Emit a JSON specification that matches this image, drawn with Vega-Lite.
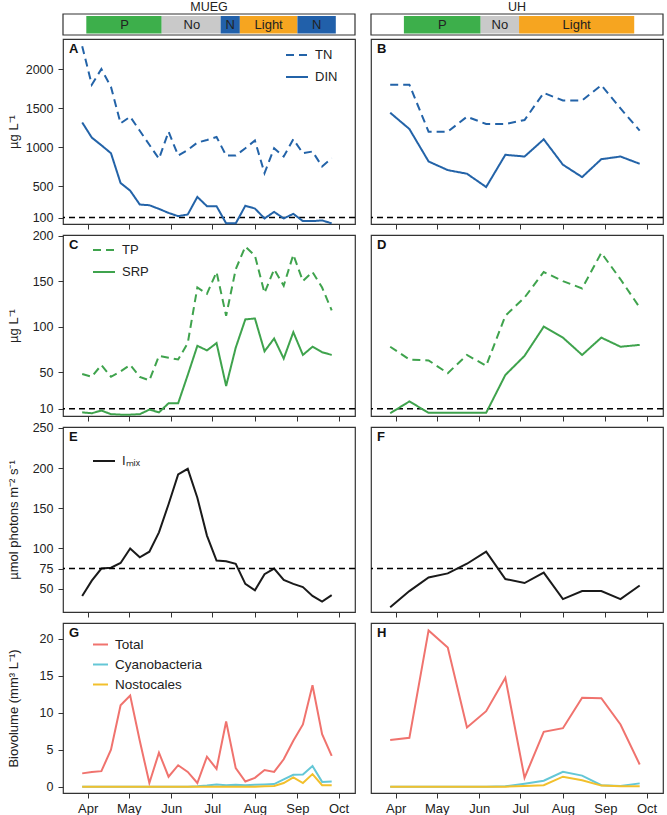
{
"$schema": "https://vega.github.io/schema/vega-lite/v6.json",
"background": "white",
"padding": {"left": 6, "top": 0, "right": 0, "bottom": 0},
"config": {
  "font": "Liberation Sans",
  "view": {"stroke": "#333", "strokeWidth": 1.2},
  "axis": {"domain": false, "grid": false, "tickColor": "#333", "tickSize": 5, "tickWidth": 1, "labelColor": "#222", "labelFontSize": 12.5, "labelPadding": 5, "titleColor": "#222", "titleFontSize": 13, "titleFontWeight": "normal", "labelOverlap": false},
  "legend": {"labelFontSize": 13, "labelColor": "#222", "symbolType": "stroke", "symbolStrokeWidth": 2, "padding": 0, "rowPadding": 3, "labelOffset": 6, "orient": "none"},
  "line": {"strokeWidth": 2}
},
"datasets": {
  "hdrMUEG": [
    {"seg": "P", "start": "2016-03-31", "end": "2016-05-25", "mid": "2016-04-28"},
    {"seg": "No", "start": "2016-05-25", "end": "2016-07-07", "mid": "2016-06-16"},
    {"seg": "N", "start": "2016-07-07", "end": "2016-07-21", "mid": "2016-07-14"},
    {"seg": "Light", "start": "2016-07-21", "end": "2016-09-01", "mid": "2016-08-11"},
    {"seg": "N", "start": "2016-09-01", "end": "2016-09-29", "mid": "2016-09-15"}
  ],
  "hdrUH": [
    {"seg": "P", "start": "2016-04-07", "end": "2016-06-02", "mid": "2016-05-05"},
    {"seg": "No", "start": "2016-06-02", "end": "2016-06-30", "mid": "2016-06-16"},
    {"seg": "Light", "start": "2016-06-30", "end": "2016-09-22", "mid": "2016-08-11"}
  ],
  "mueg": [
    {"date": "2016-03-28", "TN": 2292, "DIN": 1317, "TP": 48, "SRP": 6, "Imix": 41, "Total": 1.8, "Cyanobacteria": 0, "Nostocales": 0},
    {"date": "2016-04-04", "TN": 1800, "DIN": 1123, "TP": 45, "SRP": 5, "Imix": 60, "Total": 2.0, "Cyanobacteria": 0, "Nostocales": 0},
    {"date": "2016-04-11", "TN": 2000, "DIN": 1025, "TP": 58, "SRP": 8, "Imix": 75, "Total": 2.1, "Cyanobacteria": 0, "Nostocales": 0},
    {"date": "2016-04-18", "TN": 1771, "DIN": 923, "TP": 45, "SRP": 4, "Imix": 76, "Total": 5.0, "Cyanobacteria": 0, "Nostocales": 0},
    {"date": "2016-04-25", "TN": 1305, "DIN": 542, "TP": 51, "SRP": 3.5, "Imix": 82, "Total": 11.0, "Cyanobacteria": 0, "Nostocales": 0},
    {"date": "2016-05-02", "TN": 1390, "DIN": 445, "TP": 58, "SRP": 3.5, "Imix": 100, "Total": 12.3, "Cyanobacteria": 0, "Nostocales": 0},
    {"date": "2016-05-09", "TN": 1211, "DIN": 267, "TP": 45, "SRP": 4, "Imix": 89, "Total": 6.2, "Cyanobacteria": 0, "Nostocales": 0},
    {"date": "2016-05-16", "TN": 1031, "DIN": 258, "TP": 41, "SRP": 9, "Imix": 96, "Total": 0.5, "Cyanobacteria": 0, "Nostocales": 0},
    {"date": "2016-05-23", "TN": 852, "DIN": 211, "TP": 68, "SRP": 6, "Imix": 120, "Total": 4.6, "Cyanobacteria": 0, "Nostocales": 0},
    {"date": "2016-05-30", "TN": 1199, "DIN": 160, "TP": 66, "SRP": 16, "Imix": 155, "Total": 1.35, "Cyanobacteria": 0, "Nostocales": 0},
    {"date": "2016-06-06", "TN": 894, "DIN": 118, "TP": 64, "SRP": 16, "Imix": 192, "Total": 2.9, "Cyanobacteria": 0, "Nostocales": 0},
    {"date": "2016-06-13", "TN": 966, "DIN": 140, "TP": 82, "SRP": 47, "Imix": 199, "Total": 2.0, "Cyanobacteria": 0, "Nostocales": 0},
    {"date": "2016-06-20", "TN": 1059, "DIN": 364, "TP": 143, "SRP": 79, "Imix": 163, "Total": 0.5, "Cyanobacteria": 0.05, "Nostocales": 0},
    {"date": "2016-06-27", "TN": 1093, "DIN": 246, "TP": 136, "SRP": 74, "Imix": 116, "Total": 4.05, "Cyanobacteria": 0.15, "Nostocales": 0},
    {"date": "2016-07-04", "TN": 1131, "DIN": 246, "TP": 160, "SRP": 82, "Imix": 85, "Total": 2.4, "Cyanobacteria": 0.3, "Nostocales": 0},
    {"date": "2016-07-11", "TN": 894, "DIN": 26, "TP": 112, "SRP": 35, "Imix": 84, "Total": 8.8, "Cyanobacteria": 0.2, "Nostocales": 0},
    {"date": "2016-07-18", "TN": 894, "DIN": 26, "TP": 163, "SRP": 77, "Imix": 81, "Total": 2.5, "Cyanobacteria": 0.25, "Nostocales": 0},
    {"date": "2016-07-25", "TN": 987, "DIN": 251, "TP": 188, "SRP": 108, "Imix": 56, "Total": 0.7, "Cyanobacteria": 0.2, "Nostocales": 0},
    {"date": "2016-08-01", "TN": 1085, "DIN": 216, "TP": 178, "SRP": 109, "Imix": 48, "Total": 1.2, "Cyanobacteria": 0.25, "Nostocales": 0},
    {"date": "2016-08-08", "TN": 669, "DIN": 89, "TP": 137, "SRP": 73, "Imix": 68, "Total": 2.25, "Cyanobacteria": 0.3, "Nostocales": 0.05},
    {"date": "2016-08-15", "TN": 987, "DIN": 173, "TP": 163, "SRP": 87, "Imix": 75, "Total": 2.0, "Cyanobacteria": 0.35, "Nostocales": 0.1},
    {"date": "2016-08-22", "TN": 881, "DIN": 89, "TP": 145, "SRP": 65, "Imix": 61, "Total": 3.7, "Cyanobacteria": 1.0, "Nostocales": 0.5},
    {"date": "2016-08-29", "TN": 1101, "DIN": 148, "TP": 179, "SRP": 94, "Imix": 56, "Total": 6.2, "Cyanobacteria": 1.6, "Nostocales": 1.25},
    {"date": "2016-09-05", "TN": 923, "DIN": 55, "TP": 150, "SRP": 69, "Imix": 52, "Total": 8.4, "Cyanobacteria": 1.65, "Nostocales": 0.5},
    {"date": "2016-09-12", "TN": 945, "DIN": 55, "TP": 160, "SRP": 78, "Imix": 41, "Total": 13.7, "Cyanobacteria": 2.8, "Nostocales": 1.7},
    {"date": "2016-09-19", "TN": 754, "DIN": 64, "TP": 143, "SRP": 72, "Imix": 34, "Total": 7.1, "Cyanobacteria": 0.65, "Nostocales": 0.2},
    {"date": "2016-09-26", "TN": 860, "DIN": 26, "TP": 118, "SRP": 69, "Imix": 42, "Total": 4.15, "Cyanobacteria": 0.7, "Nostocales": 0.2}
  ],
  "uh": [
    {"date": "2016-03-28", "TN": 1800, "DIN": 1441, "TP": 78, "SRP": 5, "Imix": 27, "Total": 6.3, "Cyanobacteria": 0, "Nostocales": 0},
    {"date": "2016-04-11", "TN": 1800, "DIN": 1233, "TP": 64, "SRP": 18, "Imix": 47, "Total": 6.6, "Cyanobacteria": 0, "Nostocales": 0},
    {"date": "2016-04-25", "TN": 1199, "DIN": 818, "TP": 63, "SRP": 5.5, "Imix": 64, "Total": 21.1, "Cyanobacteria": 0, "Nostocales": 0},
    {"date": "2016-05-09", "TN": 1199, "DIN": 707, "TP": 49, "SRP": 5.5, "Imix": 69, "Total": 18.8, "Cyanobacteria": 0, "Nostocales": 0},
    {"date": "2016-05-23", "TN": 1390, "DIN": 661, "TP": 69, "SRP": 5.5, "Imix": 81, "Total": 8.0, "Cyanobacteria": 0, "Nostocales": 0},
    {"date": "2016-06-06", "TN": 1297, "DIN": 491, "TP": 57, "SRP": 5.5, "Imix": 96, "Total": 10.2, "Cyanobacteria": 0, "Nostocales": 0},
    {"date": "2016-06-20", "TN": 1297, "DIN": 903, "TP": 112, "SRP": 47, "Imix": 62, "Total": 14.7, "Cyanobacteria": 0.05, "Nostocales": 0},
    {"date": "2016-07-04", "TN": 1348, "DIN": 881, "TP": 132, "SRP": 68, "Imix": 57, "Total": 1.2, "Cyanobacteria": 0.4, "Nostocales": 0.1},
    {"date": "2016-07-18", "TN": 1695, "DIN": 1101, "TP": 160, "SRP": 100, "Imix": 70, "Total": 7.4, "Cyanobacteria": 0.8, "Nostocales": 0.2},
    {"date": "2016-08-01", "TN": 1597, "DIN": 776, "TP": 150, "SRP": 88, "Imix": 37, "Total": 7.9, "Cyanobacteria": 2.0, "Nostocales": 1.35},
    {"date": "2016-08-15", "TN": 1597, "DIN": 618, "TP": 142, "SRP": 69, "Imix": 47, "Total": 12.0, "Cyanobacteria": 1.5, "Nostocales": 0.86},
    {"date": "2016-08-29", "TN": 1793, "DIN": 847, "TP": 181, "SRP": 88, "Imix": 47, "Total": 11.95, "Cyanobacteria": 0.2, "Nostocales": 0.15},
    {"date": "2016-09-12", "TN": 1496, "DIN": 881, "TP": 152, "SRP": 78, "Imix": 37, "Total": 8.4, "Cyanobacteria": 0.1, "Nostocales": 0.05},
    {"date": "2016-09-26", "TN": 1212, "DIN": 788, "TP": 121, "SRP": 80, "Imix": 54, "Total": 3.0, "Cyanobacteria": 0.45, "Nostocales": 0.05}
  ]
},
"columns": 2,
"spacing": {"row": 11, "column": 16},
"bounds": "flush",
"resolve": {"scale": {"color": "independent", "strokeDash": "independent"}, "legend": {"color": "independent", "strokeDash": "independent"}},
"concat": [
{
  "width": 292, "height": 185,
  "title": {"text": "MUEG", "offset": 0, "fontSize": 12.5, "fontWeight": "normal", "anchor": "middle", "color": "#222"},
  "layer": [
    {"data": {"values": [{}]}, "mark": {"type": "rect", "fill": "white", "stroke": "#333", "strokeWidth": 1.2},
     "encoding": {"x": {"datum": {"year": 2016, "month": 3, "date": 14}, "type": "temporal"}, "x2": {"datum": {"year": 2016, "month": 10, "date": 13}}, "y": {"datum": 2435, "type": "quantitative"}, "y2": {"datum": 2704}}},
    {"data": {"name": "hdrMUEG"}, "mark": {"type": "rect"},
     "encoding": {"x": {"field": "start", "type": "temporal"}, "x2": {"field": "end"}, "y": {"datum": 2454, "type": "quantitative"}, "y2": {"datum": 2678},
       "color": {"field": "seg", "type": "nominal", "scale": {"domain": ["P", "No", "N", "Light"], "range": ["#3daf4b", "#c9c9c9", "#2160aa", "#f6a520"]}, "legend": null}}},
    {"data": {"name": "hdrMUEG"}, "mark": {"type": "text", "fontSize": 13, "color": "#222", "baseline": "middle"},
     "encoding": {"x": {"field": "mid", "type": "temporal"}, "y": {"datum": 2566, "type": "quantitative"}, "text": {"field": "seg"}}},
    {"data": {"values": [{}]}, "mark": {"type": "rule", "color": "black", "strokeWidth": 1.5, "strokeDash": [6, 4]},
     "encoding": {"y": {"datum": 100, "type": "quantitative"}}},
    {"data": {"name": "mueg"}, "transform": [{"fold": ["TN", "DIN"], "as": ["series", "value"]}],
     "mark": {"type": "line", "color": "#2363a8", "strokeWidth": 2},
     "encoding": {
       "x": {"field": "date", "type": "temporal", "title": null, "scale": {"domain": [{"year": 2016, "month": 3, "date": 14}, {"year": 2016, "month": 10, "date": 13}], "nice": false},
             "axis": {"values": [{"year": 2016, "month": 4, "date": 1}, {"year": 2016, "month": 5, "date": 1}, {"year": 2016, "month": 6, "date": 1}, {"year": 2016, "month": 7, "date": 1}, {"year": 2016, "month": 8, "date": 1}, {"year": 2016, "month": 9, "date": 1}, {"year": 2016, "month": 10, "date": 1}], "format": "%b", "labels": false, "title": null}},
       "y": {"field": "value", "type": "quantitative", "title": "µg L⁻¹", "scale": {"domain": [18, 2384], "nice": false, "zero": false}, "axis": {"values": [100, 500, 1000, 1500, 2000], "format": "d", "titleX": -43, "title": "µg L⁻¹"}},
       "strokeDash": {"field": "series", "type": "nominal", "scale": {"domain": ["TN", "DIN"], "range": [[8, 5], [1, 0]]},
         "legend": {"title": null, "legendX": 222, "legendY": 4, "symbolStrokeColor": "#2363a8", "symbolSize": 484}}
     }},
    {"data": {"values": [{}]}, "mark": {"type": "text", "text": "A", "fontWeight": "bold", "fontSize": 13, "align": "left", "baseline": "top", "dx": 6, "dy": 4, "color": "#111"},
     "encoding": {"x": {"datum": {"year": 2016, "month": 3, "date": 14}, "type": "temporal"}, "y": {"datum": 2384, "type": "quantitative"}}}
  ]
},
{
  "width": 292, "height": 185,
  "title": {"text": "UH", "offset": 0, "fontSize": 12.5, "fontWeight": "normal", "anchor": "middle", "color": "#222"},
  "layer": [
    {"data": {"values": [{}]}, "mark": {"type": "rect", "fill": "white", "stroke": "#333", "strokeWidth": 1.2},
     "encoding": {"x": {"datum": {"year": 2016, "month": 3, "date": 14}, "type": "temporal"}, "x2": {"datum": {"year": 2016, "month": 10, "date": 13}}, "y": {"datum": 2435, "type": "quantitative", "axis": null}, "y2": {"datum": 2704}}},
    {"data": {"name": "hdrUH"}, "mark": {"type": "rect"},
     "encoding": {"x": {"field": "start", "type": "temporal"}, "x2": {"field": "end"}, "y": {"datum": 2454, "type": "quantitative", "axis": null}, "y2": {"datum": 2678},
       "color": {"field": "seg", "type": "nominal", "scale": {"domain": ["P", "No", "N", "Light"], "range": ["#3daf4b", "#c9c9c9", "#2160aa", "#f6a520"]}, "legend": null}}},
    {"data": {"name": "hdrUH"}, "mark": {"type": "text", "fontSize": 13, "color": "#222", "baseline": "middle"},
     "encoding": {"x": {"field": "mid", "type": "temporal"}, "y": {"datum": 2566, "type": "quantitative", "axis": null}, "text": {"field": "seg"}}},
    {"data": {"values": [{}]}, "mark": {"type": "rule", "color": "black", "strokeWidth": 1.5, "strokeDash": [6, 4]},
     "encoding": {"y": {"datum": 100, "type": "quantitative", "axis": null}}},
    {"data": {"name": "uh"}, "transform": [{"fold": ["TN", "DIN"], "as": ["series", "value"]}],
     "mark": {"type": "line", "color": "#2363a8", "strokeWidth": 2},
     "encoding": {
       "x": {"field": "date", "type": "temporal", "title": null, "scale": {"domain": [{"year": 2016, "month": 3, "date": 14}, {"year": 2016, "month": 10, "date": 13}], "nice": false},
             "axis": {"values": [{"year": 2016, "month": 4, "date": 1}, {"year": 2016, "month": 5, "date": 1}, {"year": 2016, "month": 6, "date": 1}, {"year": 2016, "month": 7, "date": 1}, {"year": 2016, "month": 8, "date": 1}, {"year": 2016, "month": 9, "date": 1}, {"year": 2016, "month": 10, "date": 1}], "format": "%b", "labels": false, "title": null}},
       "y": {"field": "value", "type": "quantitative", "scale": {"domain": [18, 2384], "nice": false, "zero": false}, "axis": null},
       "strokeDash": {"field": "series", "type": "nominal", "scale": {"domain": ["TN", "DIN"], "range": [[8, 5], [1, 0]]}, "legend": null}
     }},
    {"data": {"values": [{}]}, "mark": {"type": "text", "text": "B", "fontWeight": "bold", "fontSize": 13, "align": "left", "baseline": "top", "dx": 6, "dy": 4, "color": "#111"},
     "encoding": {"x": {"datum": {"year": 2016, "month": 3, "date": 14}, "type": "temporal"}, "y": {"datum": 2384, "type": "quantitative", "axis": null}}}
  ]
},
{
  "width": 292, "height": 181,
  "layer": [
    {"data": {"values": [{}]}, "mark": {"type": "rule", "color": "black", "strokeWidth": 1.5, "strokeDash": [6, 4]},
     "encoding": {"y": {"datum": 10, "type": "quantitative"}}},
    {"data": {"name": "mueg"}, "transform": [{"fold": ["TP", "SRP"], "as": ["series", "value"]}],
     "mark": {"type": "line", "color": "#3fa34d", "strokeWidth": 2},
     "encoding": {
       "x": {"field": "date", "type": "temporal", "title": null, "scale": {"domain": [{"year": 2016, "month": 3, "date": 14}, {"year": 2016, "month": 10, "date": 13}], "nice": false},
             "axis": {"values": [{"year": 2016, "month": 4, "date": 1}, {"year": 2016, "month": 5, "date": 1}, {"year": 2016, "month": 6, "date": 1}, {"year": 2016, "month": 7, "date": 1}, {"year": 2016, "month": 8, "date": 1}, {"year": 2016, "month": 9, "date": 1}, {"year": 2016, "month": 10, "date": 1}], "format": "%b", "labels": false, "title": null}},
       "y": {"field": "value", "type": "quantitative", "title": "µg L⁻¹", "scale": {"domain": [2, 200.6], "nice": false, "zero": false}, "axis": {"values": [10, 50, 100, 150, 200], "format": "d", "titleX": -43, "title": "µg L⁻¹"}},
       "strokeDash": {"field": "series", "type": "nominal", "scale": {"domain": ["TP", "SRP"], "range": [[8, 5], [1, 0]]},
         "legend": {"title": null, "legendX": 29, "legendY": 3, "symbolStrokeColor": "#3fa34d", "symbolSize": 484}}
     }},
    {"data": {"values": [{}]}, "mark": {"type": "text", "text": "C", "fontWeight": "bold", "fontSize": 13, "align": "left", "baseline": "top", "dx": 6, "dy": 4, "color": "#111"},
     "encoding": {"x": {"datum": {"year": 2016, "month": 3, "date": 14}, "type": "temporal"}, "y": {"datum": 200.6, "type": "quantitative"}}}
  ]
},
{
  "width": 292, "height": 181,
  "layer": [
    {"data": {"values": [{}]}, "mark": {"type": "rule", "color": "black", "strokeWidth": 1.5, "strokeDash": [6, 4]},
     "encoding": {"y": {"datum": 10, "type": "quantitative", "axis": null}}},
    {"data": {"name": "uh"}, "transform": [{"fold": ["TP", "SRP"], "as": ["series", "value"]}],
     "mark": {"type": "line", "color": "#3fa34d", "strokeWidth": 2},
     "encoding": {
       "x": {"field": "date", "type": "temporal", "title": null, "scale": {"domain": [{"year": 2016, "month": 3, "date": 14}, {"year": 2016, "month": 10, "date": 13}], "nice": false},
             "axis": {"values": [{"year": 2016, "month": 4, "date": 1}, {"year": 2016, "month": 5, "date": 1}, {"year": 2016, "month": 6, "date": 1}, {"year": 2016, "month": 7, "date": 1}, {"year": 2016, "month": 8, "date": 1}, {"year": 2016, "month": 9, "date": 1}, {"year": 2016, "month": 10, "date": 1}], "format": "%b", "labels": false, "title": null}},
       "y": {"field": "value", "type": "quantitative", "scale": {"domain": [2, 200.6], "nice": false, "zero": false}, "axis": null},
       "strokeDash": {"field": "series", "type": "nominal", "scale": {"domain": ["TP", "SRP"], "range": [[8, 5], [1, 0]]}, "legend": null}
     }},
    {"data": {"values": [{}]}, "mark": {"type": "text", "text": "D", "fontWeight": "bold", "fontSize": 13, "align": "left", "baseline": "top", "dx": 6, "dy": 4, "color": "#111"},
     "encoding": {"x": {"datum": {"year": 2016, "month": 3, "date": 14}, "type": "temporal"}, "y": {"datum": 200.6, "type": "quantitative", "axis": null}}}
  ]
},
{
  "width": 292, "height": 185,
  "layer": [
    {"data": {"name": "mueg"},
     "mark": {"type": "line", "strokeWidth": 2},
     "encoding": {
       "x": {"field": "date", "type": "temporal", "title": null, "scale": {"domain": [{"year": 2016, "month": 3, "date": 14}, {"year": 2016, "month": 10, "date": 13}], "nice": false},
             "axis": {"values": [{"year": 2016, "month": 4, "date": 1}, {"year": 2016, "month": 5, "date": 1}, {"year": 2016, "month": 6, "date": 1}, {"year": 2016, "month": 7, "date": 1}, {"year": 2016, "month": 8, "date": 1}, {"year": 2016, "month": 9, "date": 1}, {"year": 2016, "month": 10, "date": 1}], "format": "%b", "labels": false, "title": null}},
       "y": {"field": "Imix", "type": "quantitative", "title": "µmol photons m⁻² s⁻¹", "scale": {"domain": [21, 251], "nice": false, "zero": false}, "axis": {"values": [50, 75, 100, 150, 200, 250], "format": "d", "labelOverlap": false, "labelBound": false, "titleX": -43, "title": "µmol photons m⁻² s⁻¹"}},
       "color": {"datum": "Iₘᵢₓ", "type": "nominal", "scale": {"domain": ["Iₘᵢₓ"], "range": ["#1a1a1a"]},
         "legend": {"title": null, "legendX": 29, "legendY": 22, "symbolSize": 484}}
     }},
    {"data": {"values": [{}]}, "mark": {"type": "rule", "color": "black", "strokeWidth": 1.5, "strokeDash": [6, 4]},
     "encoding": {"y": {"datum": 75, "type": "quantitative", "axis": {"values": [50, 75, 100, 150, 200, 250], "format": "d", "labelOverlap": false, "labelBound": false, "titleX": -43, "title": "µmol photons m⁻² s⁻¹"}}}},
    {"data": {"values": [{}]}, "mark": {"type": "text", "text": "E", "fontWeight": "bold", "fontSize": 13, "align": "left", "baseline": "top", "dx": 6, "dy": 4, "color": "#111"},
     "encoding": {"x": {"datum": {"year": 2016, "month": 3, "date": 14}, "type": "temporal"}, "y": {"datum": 251, "type": "quantitative", "axis": {"values": [50, 75, 100, 150, 200, 250], "format": "d", "labelOverlap": false, "labelBound": false, "titleX": -43, "title": "µmol photons m⁻² s⁻¹"}}}}
  ]
},
{
  "width": 292, "height": 185,
  "layer": [
    {"data": {"values": [{}]}, "mark": {"type": "rule", "color": "black", "strokeWidth": 1.5, "strokeDash": [6, 4]},
     "encoding": {"y": {"datum": 75, "type": "quantitative", "axis": null}}},
    {"data": {"name": "uh"},
     "mark": {"type": "line", "strokeWidth": 2, "color": "#1a1a1a"},
     "encoding": {
       "x": {"field": "date", "type": "temporal", "title": null, "scale": {"domain": [{"year": 2016, "month": 3, "date": 14}, {"year": 2016, "month": 10, "date": 13}], "nice": false},
             "axis": {"values": [{"year": 2016, "month": 4, "date": 1}, {"year": 2016, "month": 5, "date": 1}, {"year": 2016, "month": 6, "date": 1}, {"year": 2016, "month": 7, "date": 1}, {"year": 2016, "month": 8, "date": 1}, {"year": 2016, "month": 9, "date": 1}, {"year": 2016, "month": 10, "date": 1}], "format": "%b", "labels": false, "title": null}},
       "y": {"field": "Imix", "type": "quantitative", "scale": {"domain": [21, 251], "nice": false, "zero": false}, "axis": null}
     }},
    {"data": {"values": [{}]}, "mark": {"type": "text", "text": "F", "fontWeight": "bold", "fontSize": 13, "align": "left", "baseline": "top", "dx": 6, "dy": 4, "color": "#111"},
     "encoding": {"x": {"datum": {"year": 2016, "month": 3, "date": 14}, "type": "temporal"}, "y": {"datum": 251, "type": "quantitative", "axis": null}}}
  ]
},
{
  "width": 292, "height": 170,
  "layer": [
    {"data": {"name": "mueg"}, "transform": [{"fold": ["Total", "Cyanobacteria", "Nostocales"], "as": ["series", "value"]}],
     "mark": {"type": "line", "strokeWidth": 2},
     "encoding": {
       "x": {"field": "date", "type": "temporal", "title": null, "scale": {"domain": [{"year": 2016, "month": 3, "date": 14}, {"year": 2016, "month": 10, "date": 13}], "nice": false},
             "axis": {"values": [{"year": 2016, "month": 4, "date": 1}, {"year": 2016, "month": 5, "date": 1}, {"year": 2016, "month": 6, "date": 1}, {"year": 2016, "month": 7, "date": 1}, {"year": 2016, "month": 8, "date": 1}, {"year": 2016, "month": 9, "date": 1}, {"year": 2016, "month": 10, "date": 1}], "format": "%b", "labels": true, "labelFontSize": 13, "labelPadding": 4, "title": null}},
       "y": {"field": "value", "type": "quantitative", "title": "Biovolume (mm³ L⁻¹)", "scale": {"domain": [-0.85, 22.1], "nice": false, "zero": false}, "axis": {"values": [0, 5, 10, 15, 20], "format": "d", "titleX": -43, "title": "Biovolume (mm³ L⁻¹)"}},
       "color": {"field": "series", "type": "nominal", "scale": {"domain": ["Total", "Cyanobacteria", "Nostocales"], "range": ["#f0736e", "#64c7d6", "#f2c02c"]},
         "legend": {"title": null, "legendX": 29, "legendY": 13, "symbolSize": 225, "rowPadding": 5, "labelFontSize": 13.5}}
     }},
    {"data": {"values": [{}]}, "mark": {"type": "text", "text": "G", "fontWeight": "bold", "fontSize": 13, "align": "left", "baseline": "top", "dx": 6, "dy": 4, "color": "#111"},
     "encoding": {"x": {"datum": {"year": 2016, "month": 3, "date": 14}, "type": "temporal"}, "y": {"datum": 22.1, "type": "quantitative"}}}
  ]
},
{
  "width": 292, "height": 170,
  "layer": [
    {"data": {"name": "uh"}, "transform": [{"fold": ["Total", "Cyanobacteria", "Nostocales"], "as": ["series", "value"]}],
     "mark": {"type": "line", "strokeWidth": 2},
     "encoding": {
       "x": {"field": "date", "type": "temporal", "title": null, "scale": {"domain": [{"year": 2016, "month": 3, "date": 14}, {"year": 2016, "month": 10, "date": 13}], "nice": false},
             "axis": {"values": [{"year": 2016, "month": 4, "date": 1}, {"year": 2016, "month": 5, "date": 1}, {"year": 2016, "month": 6, "date": 1}, {"year": 2016, "month": 7, "date": 1}, {"year": 2016, "month": 8, "date": 1}, {"year": 2016, "month": 9, "date": 1}, {"year": 2016, "month": 10, "date": 1}], "format": "%b", "labels": true, "labelFontSize": 13, "labelPadding": 4, "title": null}},
       "y": {"field": "value", "type": "quantitative", "scale": {"domain": [-0.85, 22.1], "nice": false, "zero": false}, "axis": null},
       "color": {"field": "series", "type": "nominal", "scale": {"domain": ["Total", "Cyanobacteria", "Nostocales"], "range": ["#f0736e", "#64c7d6", "#f2c02c"]}, "legend": null}
     }},
    {"data": {"values": [{}]}, "mark": {"type": "text", "text": "H", "fontWeight": "bold", "fontSize": 13, "align": "left", "baseline": "top", "dx": 6, "dy": 4, "color": "#111"},
     "encoding": {"x": {"datum": {"year": 2016, "month": 3, "date": 14}, "type": "temporal"}, "y": {"datum": 22.1, "type": "quantitative", "axis": null}}}
  ]
}
]
}
